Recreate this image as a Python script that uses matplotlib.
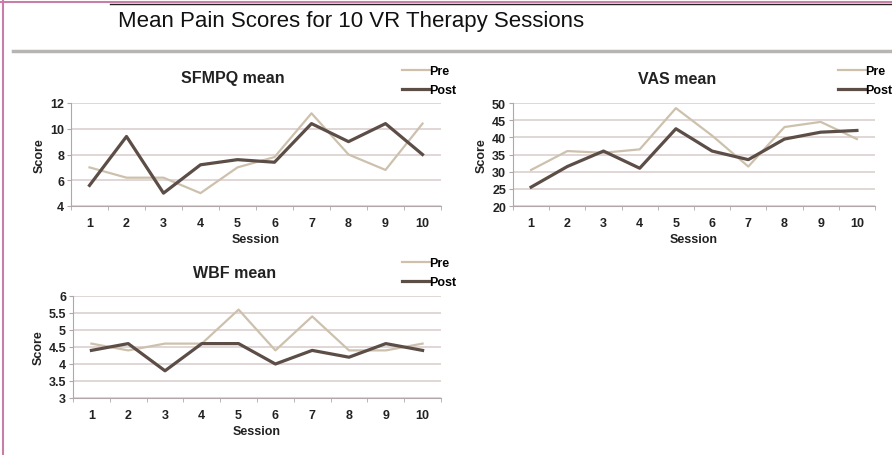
import matplotlib
matplotlib.use('Agg')
import matplotlib.pyplot as plt
from matplotlib.lines import Line2D

sessions = [1, 2, 3, 4, 5, 6, 7, 8, 9, 10]

sfmpq_pre = [7.0, 6.2, 6.2, 5.0, 7.0, 7.8, 11.2, 8.0, 6.8, 10.4]
sfmpq_post = [5.6, 9.4, 5.0, 7.2, 7.6, 7.4, 10.4, 9.0, 10.4, 8.0]

vas_pre = [30.5, 36.0, 35.5, 36.5, 48.5, 40.5, 31.5, 43.0, 44.5, 39.5]
vas_post = [25.5, 31.5, 36.0, 31.0, 42.5, 36.0, 33.5, 39.5, 41.5, 42.0]

wbf_pre = [4.6, 4.4, 4.6, 4.6, 5.6, 4.4, 5.4, 4.4, 4.4, 4.6]
wbf_post = [4.4, 4.6, 3.8, 4.6, 4.6, 4.0, 4.4, 4.2, 4.6, 4.4]

PRE_C = '#cdc1ad'
POST_C = '#5c4d46'
GRID_C = '#dccfcf'
AXIS_C = '#b0a8a8'

plt.rcParams['font.family'] = ['Liberation Sans', 'DejaVu Sans']

W, H = 892, 456
fig = plt.figure(figsize=(W / 100, H / 100), dpi=100)


def px_rect(x0, y0, x1, y1):
    return [x0 / W, 1 - y1 / H, (x1 - x0) / W, (y1 - y0) / H]


def panel(rect, pre, post, title, ylim, yticks, title_xy, leg_xy):
    ax = fig.add_axes(px_rect(*rect))
    ax.plot(sessions, pre, color=PRE_C, lw=1.6, zorder=3)
    ax.plot(sessions, post, color=POST_C, lw=2.3, zorder=4)
    ax.set_xlim(0.5, 10.5)
    ax.set_ylim(*ylim)
    ax.set_yticks(yticks)
    ax.set_yticklabels(['%g' % v for v in yticks])
    ax.set_xticks(sessions)
    ax.set_xticks([s + 0.5 for s in range(0, 11)], minor=True)
    ax.tick_params(axis='x', which='major', length=0, pad=8, labelsize=9)
    ax.tick_params(axis='x', which='minor', length=3, color=AXIS_C)
    ax.tick_params(axis='y', length=3, color=AXIS_C, labelsize=9, pad=2)
    for lab in ax.get_xticklabels() + ax.get_yticklabels():
        lab.set_fontweight('bold')
        lab.set_color('#222222')
    for s in ['top', 'right']:
        ax.spines[s].set_visible(False)
    for s in ['left', 'bottom']:
        ax.spines[s].set_color(AXIS_C)
    ax.yaxis.grid(True, color=GRID_C, lw=1.2)
    ax.set_axisbelow(True)
    ax.set_xlabel('Session', fontsize=9, fontweight='bold', labelpad=3, color='#222222')
    ax.set_ylabel('Score', fontsize=9, fontweight='bold', labelpad=3, color='#222222')
    fig.text(title_xy[0] / W, 1 - title_xy[1] / H, title, ha='center', va='center',
             fontsize=11.5, fontweight='bold', color='#222222')
    handles = [Line2D([], [], color=PRE_C, lw=1.6), Line2D([], [], color=POST_C, lw=2.3)]
    fig.legend(handles, ['Pre', 'Post'], loc='upper left',
               bbox_to_anchor=(leg_xy[0] / W, 1 - leg_xy[1] / H),
               frameon=False, handlelength=2.2, handletextpad=0.0,
               labelspacing=0.6, borderaxespad=0, borderpad=0,
               prop={'weight': 'bold', 'size': 9})
    return ax


panel((71, 104, 441, 207), sfmpq_pre, sfmpq_post, 'SFMPQ mean', (4, 12),
      [4, 6, 8, 10, 12], (233, 79), (402, 66))
panel((513, 104, 875, 207), vas_pre, vas_post, 'VAS mean', (20, 50),
      [20, 25, 30, 35, 40, 45, 50], (677, 79), (838, 66))
panel((73, 297, 441, 399), wbf_pre, wbf_post, 'WBF mean', (3, 6),
      [3, 3.5, 4, 4.5, 5, 5.5, 6], (235, 273), (402, 258))

# page title and decorations
fig.text(118 / W, 1 - 21 / H, 'Mean Pain Scores for 10 VR Therapy Sessions',
         ha='left', va='center', fontsize=16, color='#111111')
fig.add_artist(Line2D([13 / W, 1], [1 - 52 / H] * 2, color='#b8b4b4', lw=2.5))
fig.add_artist(Line2D([0, 1], [1 - 3 / H] * 2, color='#c77fa8', lw=1.5))
fig.add_artist(Line2D([3 / W, 3 / W], [0, 1], color='#c77fa8', lw=1.5))
fig.add_artist(Line2D([110 / W, 1], [1 - 5 / H] * 2, color='#222222', lw=1.0))

fig.savefig('out.png', dpi=100, facecolor='white')
